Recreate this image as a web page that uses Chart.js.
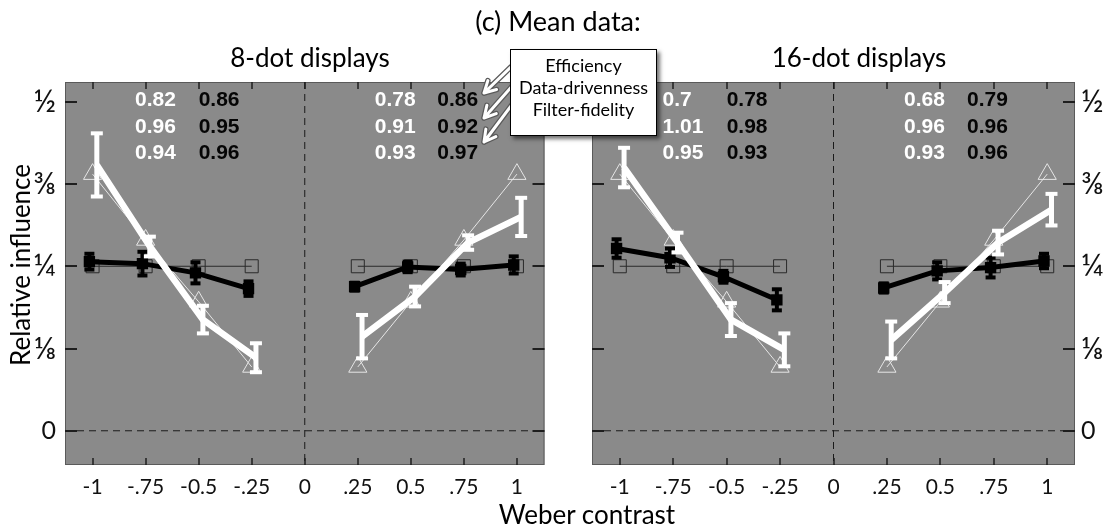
<!DOCTYPE html>
<html><head><meta charset="utf-8">
<script src="https://cdn.jsdelivr.net/npm/chart.js@4.4.1/dist/chart.umd.min.js"></script>
<style>
body{margin:0;background:#fff;}
#wrap{position:relative;width:1106px;height:529px;overflow:hidden;font-family:Lato,'Open Sans',sans-serif;background:#fff;}
.t{position:absolute;transform:translate(-50%,-50%);white-space:nowrap;color:#000;line-height:1;}
canvas{position:absolute;top:0;}
#legend{position:absolute;left:510px;top:49px;width:147px;height:87px;box-sizing:border-box;border:1.5px solid #000;background:#fff;box-shadow:3px 3px 4px rgba(0,0,0,0.55);text-align:center;font-size:18px;line-height:22px;padding-top:4px;z-index:3;}
#arrows{position:absolute;left:0;top:0;z-index:2;}
</style></head><body>
<div id="wrap">
<canvas id="c8" width="556" height="529" style="left:0"></canvas>
<canvas id="c16" width="550" height="529" style="left:556px"></canvas>
<svg id="arrows" width="1106" height="529"></svg>
<div id="legend"><div>Efficiency</div><div>Data-drivenness</div><div>Filter-fidelity</div></div>
<div class="t" style="left:558px;top:20px;font-size:27px">(c) Mean data:</div>
<div class="t" style="left:310px;top:57px;font-size:26px">8-dot displays</div>
<div class="t" style="left:859px;top:57px;font-size:26px">16-dot displays</div>
<div class="t" style="left:20px;top:265px;font-size:26px;transform:translate(-50%,-50%) rotate(-90deg)">Relative influence</div>
<div class="t" style="left:587px;top:514px;font-size:26px">Weber contrast</div>
</div>
<script>
// ---- data ----
const contrasts = [-1, -0.75, -0.5, -0.25, 0.25, 0.5, 0.75, 1];
const xTickValues = [-1, -0.75, -0.5, -0.25, 0, 0.25, 0.5, 0.75, 1];
const xTickLabels = ['-1', '-.75', '-0.5', '-.25', '0', '.25', '0.5', '.75', '1'];
const yTickValues = [0, 0.125, 0.25, 0.375, 0.5];
const yTickLabels = ['0', '\u215B', '\u00BC', '\u215C', '\u00BD'];

// 8-dot displays
const white8 = [0.404, 0.280, 0.169, 0.111, 0.143, 0.204, 0.286, 0.325];
const white8Err = [0.048, 0.015, 0.021, 0.022, 0.033, 0.015, 0.011, 0.029];
const black8 = [0.257, 0.254, 0.240, 0.216, 0.219, 0.249, 0.245, 0.252];
const black8Err = [0.012, 0.018, 0.016, 0.011, 0.006, 0.008, 0.009, 0.013];
const ideal8 = [0.39, 0.29, 0.196, 0.097, 0.097, 0.196, 0.29, 0.39];
const flat8 = [0.25, 0.25, 0.25, 0.25, 0.25, 0.25, 0.25, 0.25];

// 16-dot displays
const white16 = [0.400, 0.286, 0.169, 0.123, 0.138, 0.210, 0.286, 0.336];
const white16Err = [0.030, 0.015, 0.025, 0.025, 0.028, 0.016, 0.018, 0.024];
const black16 = [0.277, 0.263, 0.234, 0.199, 0.217, 0.243, 0.248, 0.258];
const black16Err = [0.014, 0.014, 0.009, 0.016, 0.007, 0.013, 0.015, 0.011];
const ideal16 = [0.39, 0.29, 0.196, 0.097, 0.097, 0.196, 0.29, 0.39];
const flat16 = [0.25, 0.25, 0.25, 0.25, 0.25, 0.25, 0.25, 0.25];

// statistics (Efficiency / Data-drivenness / Filter-fidelity)
const stats8NegWhite = ['0.82', '0.96', '0.94'];
const stats8NegBlack = ['0.86', '0.95', '0.96'];
const stats8PosWhite = ['0.78', '0.91', '0.93'];
const stats8PosBlack = ['0.86', '0.92', '0.97'];
const stats16NegWhite = ['0.7', '1.01', '0.95'];
const stats16NegBlack = ['0.78', '0.98', '0.93'];
const stats16PosWhite = ['0.68', '0.96', '0.93'];
const stats16PosBlack = ['0.79', '0.96', '0.96'];

// ---- layout / style constants ----
const WHITE_DX = 0.02, BLACK_DX = -0.015;
const STAT_COLS = [-0.80, -0.50, 0.33, 0.625];
const STAT_ROWS = [0.502, 0.462, 0.422];
const PANEL_BG = '#8a8a8a';
const X_MIN = -1.13, X_MAX = 1.13, Y_MIN = -0.052, Y_MAX = 0.530;
const TICK_FONT = {family: "Lato, 'Open Sans', sans-serif", size: 21};

function pts(vals, dx) {
  const out = [];
  contrasts.forEach((c, i) => { if (i === 4) out.push({x: 0, y: null}); out.push({x: c + dx, y: vals[i]}); });
  return out;
}
function errs(e) {
  const out = [];
  e.forEach((v, i) => { if (i === 4) out.push(null); out.push(v); });
  return out;
}

function line(ctx, x1, y1, x2, y2) { ctx.beginPath(); ctx.moveTo(x1, y1); ctx.lineTo(x2, y2); ctx.stroke(); }

const panelPlugin = {
  id: 'panel',
  beforeDatasetsDraw(chart) {
    const {ctx, chartArea: a, scales: {x, y}} = chart;
    ctx.save();
    ctx.fillStyle = PANEL_BG;
    ctx.fillRect(a.left, a.top, a.width, a.height);
    ctx.strokeStyle = '#5a5a5a'; ctx.lineWidth = 1;
    ctx.strokeRect(a.left + 0.5, a.top + 0.5, a.width - 1, a.height - 1);
    ctx.strokeStyle = '#1a1a1a'; ctx.lineWidth = 1;
    ctx.setLineDash([7, 5]);
    const y0 = y.getPixelForValue(0), x0 = x.getPixelForValue(0);
    line(ctx, a.left, y0, a.right, y0);
    line(ctx, x0, a.top, x0, a.bottom);
    ctx.setLineDash([]);
    ctx.strokeStyle = '#1e1e1e';
    ctx.lineWidth = 2;
    yTickValues.forEach(v => { const py = Math.round(y.getPixelForValue(v)); line(ctx, a.left, py, a.left + 12, py); line(ctx, a.right - 12, py, a.right, py); });
    ctx.lineWidth = 1.5;
    xTickValues.forEach(v => { const px = Math.round(x.getPixelForValue(v)); line(ctx, px, a.top, px, a.top + 7); line(ctx, px, a.bottom - 7, px, a.bottom); });
    ctx.restore();
  }
};

const errPlugin = {
  id: 'errbars',
  afterDatasetDraw(chart, args) {
    const ds = chart.data.datasets[args.index];
    if (!ds.errors) return;
    const ctx = chart.ctx, ys = chart.scales.y;
    ctx.save();
    ctx.strokeStyle = ds.borderColor;
    ctx.lineCap = 'butt';
    args.meta.data.forEach((pt, i) => {
      const v = ds.data[i].y, e = ds.errors[i];
      if (v == null || e == null) return;
      const yt = ys.getPixelForValue(v + e), yb = ys.getPixelForValue(v - e);
      ctx.lineWidth = ds.errWidth;
      line(ctx, pt.x, yt, pt.x, yb);
      ctx.lineWidth = ds.capWidth;
      line(ctx, pt.x - ds.capHalf, yt, pt.x + ds.capHalf, yt);
      line(ctx, pt.x - ds.capHalf, yb, pt.x + ds.capHalf, yb);
    });
    ctx.restore();
  }
};

const statsPlugin = {
  id: 'stats',
  afterDatasetsDraw(chart, args, opts) {
    const ctx = chart.ctx, xs = chart.scales.x, ys = chart.scales.y;
    ctx.save();
    ctx.font = "bold 21px 'Liberation Sans', Arial, sans-serif";
    ctx.textAlign = 'left'; ctx.textBaseline = 'middle';
    opts.columns.forEach((col, ci) => {
      ctx.fillStyle = ci % 2 === 0 ? '#ffffff' : '#050505';
      col.forEach((txt, ri) => {
        ctx.fillText(txt, xs.getPixelForValue(STAT_COLS[ci]), ys.getPixelForValue(STAT_ROWS[ri]));
      });
    });
    ctx.restore();
  }
};

function makeChart(id, white, whiteErr, black, blackErr, ideal, flat, yPos, padding, statCols) {
  return new Chart(document.getElementById(id), {
    type: 'line',
    data: {
      datasets: [
        {data: pts(white, WHITE_DX), errors: errs(whiteErr), borderColor: '#ffffff', backgroundColor: '#ffffff',
         borderWidth: 6.5, pointRadius: 0, order: 0, errWidth: 5, capWidth: 4, capHalf: 6},
        {data: pts(black, BLACK_DX), errors: errs(blackErr), borderColor: '#000000', backgroundColor: '#000000',
         borderWidth: 5, pointStyle: 'rect', pointRadius: 4.5, order: 1, errWidth: 4, capWidth: 4, capHalf: 5},
        {data: pts(ideal, 0), borderColor: '#e6e6e6', backgroundColor: 'rgba(0,0,0,0)', borderWidth: 1,
         pointStyle: 'triangle', pointRadius: 10.5, pointBorderWidth: 1, order: 2},
        {data: pts(flat, 0), borderColor: '#2a2a2a', backgroundColor: 'rgba(0,0,0,0)', borderWidth: 1,
         pointStyle: 'rect', pointRadius: 9.2, pointBorderWidth: 1, order: 3}
      ]
    },
    options: {
      responsive: false, animation: false, events: [],
      spanGaps: false,
      elements: {line: {tension: 0}},
      layout: {padding: padding},
      plugins: {legend: {display: false}, tooltip: {enabled: false}, stats: {columns: statCols}},
      scales: {
        x: {
          type: 'linear', min: X_MIN, max: X_MAX, position: 'bottom',
          grid: {display: false, drawTicks: false}, border: {display: false},
          afterBuildTicks: s => { s.ticks = xTickValues.map(v => ({value: v})); },
          afterFit: s => { s.height = 50; },
          ticks: {font: TICK_FONT, color: '#111', padding: 10, maxRotation: 0, autoSkip: false,
                  callback: (v, i) => xTickLabels[i]}
        },
        y: {
          type: 'linear', min: Y_MIN, max: Y_MAX, position: yPos,
          grid: {display: false, drawTicks: false}, border: {display: false},
          afterBuildTicks: s => { s.ticks = yTickValues.map(v => ({value: v})); },
          afterFit: s => { s.width = yPos === 'left' ? 65 : 31; },
          ticks: {font: c => ({family: "Lato, 'DejaVu Sans', sans-serif", size: c.index === 0 ? 25 : 31}),
                  color: '#111', padding: yPos === 'left' ? 9 : 6,
                  callback: (v, i) => yTickLabels[i]}
        }
      }
    },
    plugins: [panelPlugin, errPlugin, statsPlugin]
  });
}

makeChart('c8', white8, white8Err, black8, black8Err, ideal8, flat8, 'left',
  {left: 0, right: 11, top: 82, bottom: 14},
  [stats8NegWhite, stats8NegBlack, stats8PosWhite, stats8PosBlack]);
makeChart('c16', white16, white16Err, black16, black16Err, ideal16, flat16, 'right',
  {left: 36, right: 0, top: 82, bottom: 14},
  [stats16NegWhite, stats16NegBlack, stats16PosWhite, stats16PosBlack]);

// legend pointer arrows
const arrowSpecs = [[514, 64, 484, 93], [514, 84, 484, 118], [514, 102, 484, 142]];
const svg = document.getElementById('arrows');
const NS = 'http://www.w3.org/2000/svg';
arrowSpecs.forEach(([x1, y1, x2, y2]) => {
  const ang = Math.atan2(y1 - y2, x1 - x2), L = 13, da = 0.5;
  const h1 = [x2 + L * Math.cos(ang + da), y2 + L * Math.sin(ang + da)];
  const h2 = [x2 + L * Math.cos(ang - da), y2 + L * Math.sin(ang - da)];
  const d = `M${x1},${y1} L${x2},${y2} M${h1[0]},${h1[1]} L${x2},${y2} L${h2[0]},${h2[1]}`;
  [['#5a5a5a', 5.5], ['#ffffff', 3]].forEach(([c, w]) => {
    const p = document.createElementNS(NS, 'path');
    p.setAttribute('d', d); p.setAttribute('fill', 'none'); p.setAttribute('stroke', c);
    p.setAttribute('stroke-width', w); p.setAttribute('stroke-linecap', 'round'); p.setAttribute('stroke-linejoin', 'round');
    svg.appendChild(p);
  });
});
</script>
</body></html>
